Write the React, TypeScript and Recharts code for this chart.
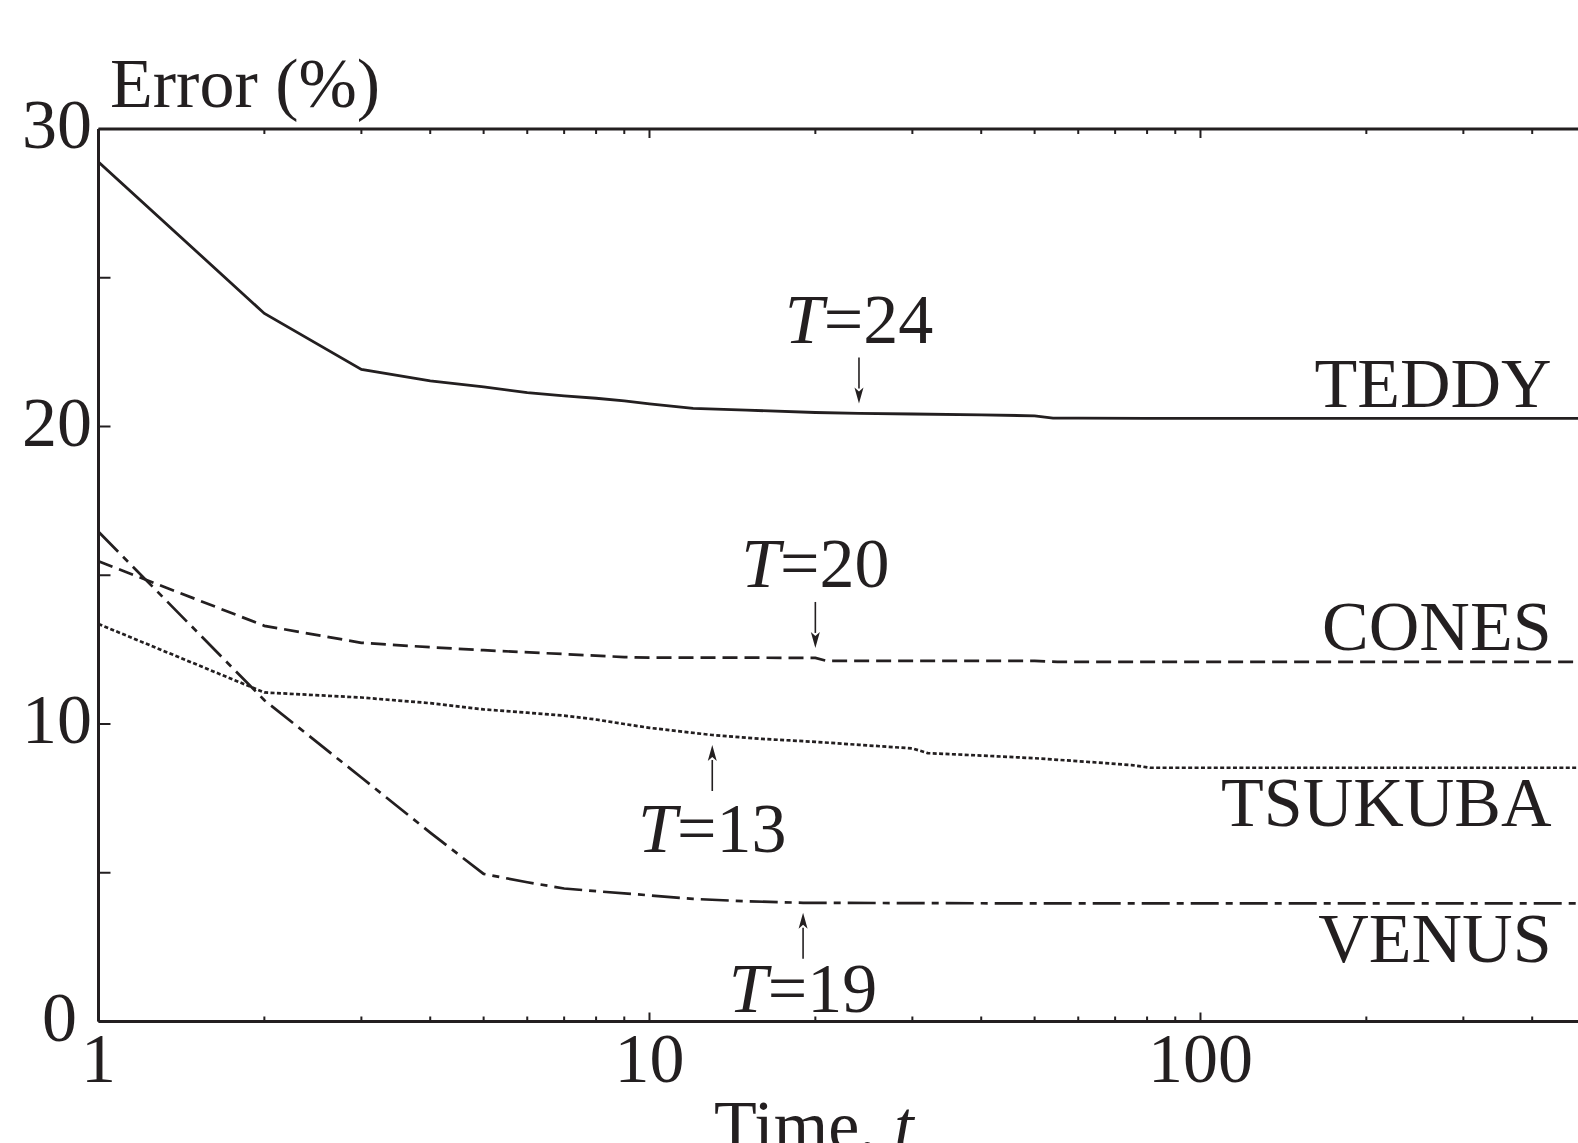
import React from 'react';
import { LineChart, Line, XAxis, YAxis, ReferenceDot } from 'recharts';

const FONT = '"Liberation Serif", "Times New Roman", serif';
const INK = '#231f20';

// ---- axis ticks ----
const xTicks = [1, 2, 3, 4, 5, 6, 7, 8, 9, 10, 20, 30, 40, 50, 60, 70, 80, 90, 100, 200, 300, 400, 500];
const xMajor = [1, 10, 100];
const yTicks = [0, 5, 10, 15, 20, 25, 30];
const yLabeled = [0, 10, 20, 30];

// ---- series (time t, error %) ----
const teddyT = [1, 2, 3, 4, 5, 6, 7, 8, 9, 10, 12, 15, 20, 24, 30, 40, 50, 54, 60, 80, 100, 200, 500];
const teddyV = [28.89, 23.8, 21.92, 21.53, 21.33, 21.14, 21.03, 20.95, 20.86, 20.76, 20.61, 20.55, 20.47, 20.44, 20.42, 20.39, 20.36, 20.28, 20.28, 20.27, 20.27, 20.27, 20.27];

const conesT = [1, 2, 3, 4, 5, 7, 9, 10, 15, 20, 21, 30, 50, 55, 100, 500];
const conesV = [15.47, 13.3, 12.73, 12.58, 12.48, 12.35, 12.25, 12.23, 12.23, 12.22, 12.12, 12.12, 12.12, 12.09, 12.09, 12.09];

const tsukubaT = [1, 2, 3, 4, 5, 6, 7, 8, 9, 10, 13, 16, 20, 24, 30, 32, 40, 50, 60, 75, 81, 100, 500];
const tsukubaV = [13.36, 11.06, 10.89, 10.7, 10.49, 10.38, 10.28, 10.15, 10.0, 9.87, 9.63, 9.5, 9.4, 9.3, 9.18, 9.02, 8.94, 8.85, 8.75, 8.62, 8.53, 8.53, 8.53];

const venusT = [1, 2, 3, 4, 5, 6, 7, 8, 10, 12, 15, 19, 30, 50, 100, 500];
const venusV = [16.46, 10.8, 8.2, 6.35, 4.96, 4.68, 4.47, 4.38, 4.24, 4.12, 4.04, 3.99, 3.98, 3.97, 3.97, 3.97];

const toRows = (ts: number[], vs: number[]) => ts.map((t, i) => ({ t, v: vs[i] }));

const series = [
  { name: 'TEDDY', data: toRows(teddyT, teddyV), dash: undefined as string | undefined, width: 2.8, labelDy: -11.5 },
  { name: 'CONES', data: toRows(conesT, conesV), dash: '15 7', width: 2.7, labelDy: -11.5 },
  { name: 'TSUKUBA', data: toRows(tsukubaT, tsukubaV), dash: '4 2.4', width: 2.7, labelDy: 58.5 },
  { name: 'VENUS', data: toRows(venusT, venusV), dash: '28 7 7 7', width: 2.7, labelDy: 58.5 },
];

// ---- annotations: convergence time T ----
const annotations = [
  { series: 'TEDDY', t: 24, label: '24', dir: -1, textDy: -70 },
  { series: 'CONES', t: 20, label: '20', dir: -1, textDy: -71 },
  { series: 'TSUKUBA', t: 13, label: '13', dir: 1, textDy: 117 },
  { series: 'VENUS', t: 19, label: '19', dir: 1, textDy: 109 },
];

const valueAt = (name: string, t: number) => {
  const s = series.find((x) => x.name === name)!;
  return s.data.find((r) => r.t === t)!.v;
};

const BottomTick = (props: any) => {
  const { x, y, payload } = props;
  const v = payload.value;
  const major = xMajor.includes(v);
  return (
    <g>
      <line x1={x} x2={x} y1={y} y2={y - (major ? 9 : 5)} stroke={INK} strokeWidth={2} />
      {major && (
        <text x={x} y={y + 60.5} textAnchor="middle" fontFamily={FONT} fontSize={70} fill={INK}>
          {v}
        </text>
      )}
    </g>
  );
};

const TopTick = (props: any) => {
  const { x, y, payload } = props;
  const major = xMajor.includes(payload.value);
  return <line x1={x} x2={x} y1={y} y2={y + (major ? 9 : 5)} stroke={INK} strokeWidth={2} />;
};

const LeftTick = (props: any) => {
  const { x, y, payload } = props;
  const v = payload.value;
  return (
    <g>
      <line x1={x} x2={x + 12} y1={y} y2={y} stroke={INK} strokeWidth={2} />
      {yLabeled.includes(v) && (
        <text x={v === 0 ? x - 21.5 : x - 6.5} y={y + 19} textAnchor="end" fontFamily={FONT} fontSize={70} fill={INK}>
          {v}
        </text>
      )}
    </g>
  );
};

const RightTick = (props: any) => {
  const { x, y } = props;
  return <line x1={x - 12} x2={x} y1={y} y2={y} stroke={INK} strokeWidth={2} />;
};

const ArrowShape = (a: { label: string; dir: number; textDy: number }) => (p: any) => {
  const { cx, cy } = p;
  if (cx == null || cy == null) return <g />;
  const tip = cy + a.dir * 10;
  const tail = cy + a.dir * 56;
  const head = tip + a.dir * 15;
  return (
    <g>
      <line x1={cx} x2={cx} y1={tail} y2={head} stroke={INK} strokeWidth={1.6} />
      <path d={`M${cx},${tip} L${cx - 4.5},${head + a.dir * 1} L${cx},${head - a.dir * 3} L${cx + 4.5},${head + a.dir * 1} Z`} fill={INK} />
      <text x={cx} y={cy + a.textDy} textAnchor="middle" fontFamily={FONT} fontSize={70} fill={INK}>
        <tspan fontStyle="italic">T</tspan>={a.label}
      </text>
    </g>
  );
};

const NameShape = (name: string, dy: number) => (p: any) => {
  const { cx, cy } = p;
  if (cx == null || cy == null) return <g />;
  return (
    <text x={cx - 34} y={cy + dy} textAnchor="end" fontFamily={FONT} fontSize={70} fill={INK}>
      {name}
    </text>
  );
};

export default function App() {
  return (
    <div style={{ position: 'fixed', left: 0, top: 0, width: 1578, height: 1143, overflow: 'hidden', background: '#fff' }}>
      <LineChart width={1700} height={1200} margin={{ top: 99, right: 54.4, left: 0, bottom: 78.5 }}>
        <XAxis
          dataKey="t"
          type="number"
          scale="log"
          domain={[1, 500]}
          allowDataOverflow
          ticks={xTicks}
          interval={0}
          height={100}
          tickSize={0}
          tickMargin={0}
          tickLine={false}
          axisLine={{ stroke: INK, strokeWidth: 3 }}
          tick={<BottomTick />}
          label={{
            content: () => (
              <text x={714} y={1149} fontFamily={FONT} fontSize={70} fill={INK}>
                Time, <tspan fontStyle="italic">t</tspan>
              </text>
            ),
          }}
        />
        <XAxis
          xAxisId="top"
          orientation="top"
          dataKey="t"
          type="number"
          scale="log"
          domain={[1, 500]}
          allowDataOverflow
          ticks={xTicks}
          interval={0}
          height={30}
          tickSize={0}
          tickMargin={0}
          tickLine={false}
          axisLine={{ stroke: INK, strokeWidth: 3 }}
          tick={<TopTick />}
        />
        <YAxis
          type="number"
          domain={[0, 30]}
          ticks={yTicks}
          interval={0}
          width={98.5}
          tickSize={0}
          tickMargin={0}
          tickLine={false}
          axisLine={{ stroke: INK, strokeWidth: 3 }}
          tick={<LeftTick />}
          label={{
            content: () => (
              <text x={110} y={107} fontFamily={FONT} fontSize={70} fill={INK}>
                Error (%)
              </text>
            ),
          }}
        />
        <YAxis
          yAxisId="right"
          orientation="right"
          type="number"
          domain={[0, 30]}
          ticks={yTicks}
          interval={0}
          width={60}
          tickSize={0}
          tickMargin={0}
          tickLine={false}
          axisLine={{ stroke: INK, strokeWidth: 3 }}
          tick={<RightTick />}
        />
        {series.map((s) => (
          <Line
            key={s.name}
            data={s.data}
            dataKey="v"
            type="linear"
            stroke={INK}
            strokeWidth={s.width}
            strokeDasharray={s.dash}
            dot={false}
            activeDot={false}
            isAnimationActive={false}
          />
        ))}
        {annotations.map((a) => (
          <ReferenceDot key={a.series} x={a.t} y={valueAt(a.series, a.t)} r={0} shape={ArrowShape(a)} />
        ))}
        {series.map((s) => (
          <ReferenceDot
            key={'n' + s.name}
            x={500}
            y={s.data[s.data.length - 1].v}
            r={0}
            shape={NameShape(s.name, s.labelDy)}
          />
        ))}
      </LineChart>
    </div>
  );
}
